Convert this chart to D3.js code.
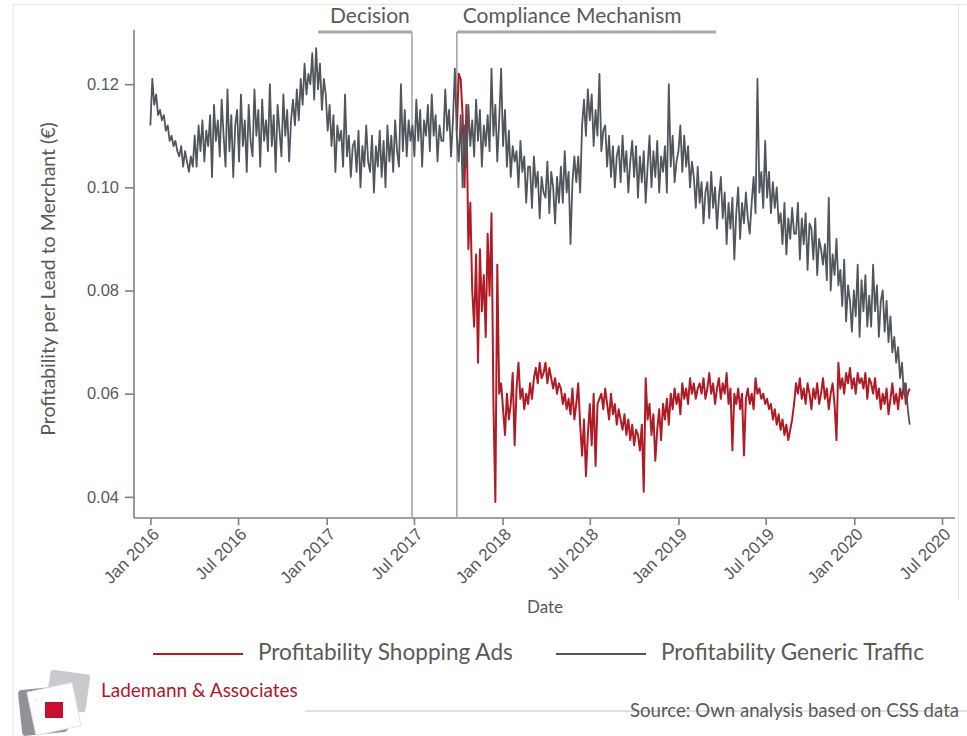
<!DOCTYPE html>
<html>
<head>
<meta charset="utf-8">
<script src="https://cdnjs.cloudflare.com/ajax/libs/d3/7.8.5/d3.min.js"></script>
<style>
  body { margin: 0; background: #fff; }
  svg { display: block; font-family: Lato, 'Open Sans', sans-serif; }
</style>
</head>
<body>
<div id="chart"></div>
<script>
// one value every 4 days
const stepDays = 4
const genericStart = '2016-01-01'
const shoppingStart = '2017-09-28'

const generic = [
  // 2016
  .112,.121,.116,.118,.114,.115,.113,.114, .111,.112,.109,.110,.108,.109,.107,
  .106,.108,.104,.107,.105,.103,.106,.104, .110,.104,.112,.107,.113,.105,.111,
  .108,.114,.102,.116,.109,.113,.106,.117, .110,.104,.119,.107,.114,.102,.112,
  .115,.105,.118,.108,.113,.103,.116,.109, .106,.119,.110,.115,.104,.117,.109,
  .113,.107,.120,.108,.114,.103,.116,.111, .106,.118,.110,.115,.105,.113,.117,
  .112,.119,.113,.121,.116,.124,.118,.122, .120,.126,.117,.127,.119,.124,.115,.121,
  // 2017
  .118,.111,.116,.108,.114,.103,.112,.109, .111,.104,.118,.106,.110,.102,.108,
  .109,.103,.111,.100,.108,.104,.112,.105, .103,.110,.099,.108,.104,.111,.102,
  .109,.100,.112,.105,.110,.103,.113,.107, .104,.120,.107,.115,.106,.113,.109,
  .112,.106,.117,.109,.115,.104,.113,.110, .116,.107,.118,.110,.114,.105,.112,.109,
  .109,.119,.111,.115,.106,.113,.123,.110, .105,.114,.100,.112,.104,.116,.108,
  .113,.106,.117,.109,.115,.104,.112,.108, .114,.107,.123,.110,.116,.105,.113,
  // 2018
  .123,.108,.115,.104,.111,.102,.108,.105, .107,.100,.109,.103,.106,.097,.104,
  .104,.096,.106,.100,.103,.094,.102,.099, .098,.105,.095,.103,.100,.093,.102,.097,
  .104,.097,.107,.099,.103,.089,.101,.106, .101,.106,.099,.112,.117,.110,.119,
  .113,.118,.108,.115,.110,.122,.107,.111, .112,.104,.110,.102,.108,.100,.106,
  .108,.101,.110,.103,.107,.099,.105,.109, .102,.108,.098,.106,.101,.107,.097,
  .104,.110,.100,.107,.102,.109,.099,.106, .103,.108,.099,.120,.104,.110,.101,.105,
  // 2019
  .107,.112,.103,.110,.104,.108,.100,.105, .102,.096,.104,.097,.101,.093,.099,
  .101,.094,.103,.096,.100,.092,.098,.102, .094,.099,.089,.097,.092,.098,.086,
  .095,.100,.090,.097,.093,.099,.094,.091, .097,.102,.095,.121,.099,.103,.096,
  .109,.098,.103,.095,.101,.096,.100,.093, .095,.089,.097,.087,.094,.090,.096,.091,
  .091,.097,.086,.094,.089,.095,.084,.093, .092,.086,.094,.083,.090,.088,.085,
  .089,.082,.098,.080,.087,.083,.090,.081, .084,.077,.086,.074,.081,.078,.072,
  // 2020
  .080,.075,.085,.071,.082,.076,.083,.073, .079,.073,.085,.076,.081,.071,.078,
  .080,.072,.078,.070,.075,.068,.071,.066, .069,.063,.066,.060,.062,.057,.054
]

const shopping = [
  .111,.122,.121,.114,.100,.116,.088,.097,
  .080,.073,.087,.066,.088,.076,.083,.071,.091,.079,.095,.058,.039,.085,.060,
  .062,.057,.052,.060,.055,.058,.064,.050,.061,.066,
  .059,.061,.057,.060,.058,.062,.059,.063,
  .065,.062,.066,.063,.064,.066,.062,.065,.063,.061,.063,.060,.062,
  .061,.058,.060,.057,.059,.056,.061,.055,
  .058,.062,.054,.048,.055,.044,.052,.058,.050,.060,.046,.058,.059,
  .060,.057,.061,.058,.055,.060,.056,.058,.054,.057,
  .055,.053,.056,.052,.055,.051,.054,.050,.053,.052,.049,.054,.041,
  .063,.055,.058,.052,.056,.047,.053,.057,.051,.058,
  .055,.059,.054,.060,.057,.061,.058,.060,.056,.062,.059,.061,.058,.063,.060,.062,.059,.061,
  .062,.060,.063,.059,.061,.064,.060,.062,.058,.061,.063,.059,.062,.060,.064,.058,.061,.049,
  .060,.058,.061,.057,.060,.048,.059,.061,.058,.060,.057,.063,.060,
  .061,.059,.060,.058,.059,.057,.058,.055,.057,.054,.056,.053,.055,.052,.054,.051,.053,.055,.058,.062,.060,
  .063,.059,.061,.058,.062,.060,.057,.061,.059,.062,.058,.060,.063,.059,.061,.057,.060,.062,.058,.051,
  .066,.061,.063,.060,.064,.062,.065,.061,.063,.060,.064,.062,.063,.061,.064,.059,.063,
  .062,.060,.063,.059,.061,.057,.060,.058,.061,.056,.059,.062,.058,.060,.057,.061,.059,.062,.058,.060,.061
]

const yTicks = [0.04, 0.06, 0.08, 0.10, 0.12]
const xRange = ['2015-11-28', '2020-07-28']
const yRange = [0.0359, 0.1305]

const phases = [
  { label: 'Decision', from: '2016-12-14', to: '2017-06-27', mark: 'to', dx: 12 },
  { label: 'Compliance Mechanism', from: '2017-09-28', to: '2019-03-20', mark: 'from', dx: 6 }
]

const legendLabels = ['Profitability Shopping Ads', 'Profitability Generic Traffic']

const red = '#b01c26'
const grey = '#51565c'
const textColor = '#595959'
const axisColor = '#808080'

const W = 967
const H = 736
const margin = { top: 30, left: 134, right: 12, bottom: 218 }
const width = W - margin.left - margin.right
const height = H - margin.top - margin.bottom

const parse = d3.timeParse('%Y-%m-%d')
const toSeries = (start, values) =>
  values.map((v, i) => ({ date: d3.timeDay.offset(parse(start), i * stepDays), value: v }))

const genericData = toSeries(genericStart, generic)
const shoppingData = toSeries(shoppingStart, shopping)

const root = d3
  .select('#chart')
  .append('svg')
  .attr('width', W)
  .attr('height', H)

// faint frame of the original slide
root.append('path')
  .attr('d', `M13,736 V4.5 H967 M958.5,4.5 V600`)
  .attr('fill', 'none')
  .attr('stroke', '#e6e6e6')

const svg = root
  .append('g')
  .attr('transform', 'translate(' + margin.left + ',' + margin.top + ')')

const x = d3.scaleTime().domain(xRange.map(parse)).range([0, width])
const y = d3.scaleLinear().domain(yRange).range([height, 0])

// axes
const xAxis = svg
  .append('g')
  .attr('transform', 'translate(0,' + height + ')')
  .call(
    d3.axisBottom(x)
      .ticks(d3.timeMonth.every(6))
      .tickFormat(d3.timeFormat('%b %Y'))
      .tickSize(7)
      .tickSizeOuter(0)
  )

const yAxis = svg
  .append('g')
  .call(
    d3.axisLeft(y)
      .tickValues(yTicks)
      .tickFormat(d3.format('.2f'))
      .tickSize(9)
      .tickPadding(6)
      .tickSizeOuter(0)
  )

svg.selectAll('.domain, .tick line')
  .attr('stroke', axisColor)
  .attr('stroke-width', 1.6)
svg.selectAll('.tick text')
  .attr('fill', textColor)
  .style('font-size', '16.5px')
yAxis.select('.domain').attr('d', `M0,${height}V0`)
xAxis.select('.domain').attr('d', `M0,0H${width}`)

xAxis.selectAll('text')
  .attr('text-anchor', 'end')
  .attr('dy', '0.35em')
  .attr('transform', 'translate(5,13) rotate(-45)')
  .attr('y', 0)
  .attr('x', 0)
  .style('font-size', '17px')

// phase brackets
phases.forEach(p => {
  const x0 = x(parse(p.from))
  const x1 = x(parse(p.to))
  const xv = p.mark === 'to' ? x1 : x0
  svg.append('line')
    .attr('x1', xv).attr('x2', xv)
    .attr('y1', 2).attr('y2', height)
    .attr('stroke', '#a8a8a8')
    .attr('stroke-width', 1.6)
  svg.append('line')
    .attr('x1', x0).attr('x2', x1)
    .attr('y1', 2).attr('y2', 2)
    .attr('stroke', '#a8a8a8')
    .attr('stroke-width', 3)
  svg.append('text')
    .attr('x', x0 + p.dx)
    .attr('y', -7)
    .attr('fill', textColor)
    .style('font-size', '21px')
    .text(p.label)
})

const line = d3.line()
  .x(d => x(d.date))
  .y(d => y(d.value))

svg.append('path')
  .datum(shoppingData)
  .attr('d', line)
  .attr('fill', 'none')
  .attr('stroke', red)
  .attr('stroke-width', 2)
  .attr('stroke-linejoin', 'round')

svg.append('path')
  .datum(genericData)
  .attr('d', line)
  .attr('fill', 'none')
  .attr('stroke', grey)
  .attr('stroke-width', 1.8)
  .attr('stroke-linejoin', 'round')

// axis titles
svg.append('text')
  .attr('x', 545 - margin.left)
  .attr('y', height + 95)
  .attr('text-anchor', 'middle')
  .attr('fill', textColor)
  .style('font-size', '17px')
  .text('Date')

root.append('text')
  .attr('transform', 'translate(50,279) rotate(-90)')
  .attr('text-anchor', 'middle')
  .attr('dominant-baseline', 'middle')
  .attr('fill', textColor)
  .style('font-size', '19.5px')
  .text('Profitability per Lead to Merchant (€)')

// legend
const legend = root.append('g').attr('transform', 'translate(0,654)')
const legendX = [153, 556]
legendLabels.forEach((label, i) => {
  legend.append('line')
    .attr('x1', legendX[i]).attr('x2', legendX[i] + 90)
    .attr('stroke', i === 0 ? red : grey)
    .attr('stroke-width', 2)
  legend.append('text')
    .attr('x', legendX[i] + 105)
    .attr('dominant-baseline', 'middle')
    .attr('fill', textColor)
    .style('font-size', '22.6px')
    .text(label)
})

// footer: logo, company name, source
const logo = root.append('g')
logo.append('rect')
  .attr('x', 48).attr('y', 672).attr('width', 40).attr('height', 38)
  .attr('rx', 3)
  .attr('fill', '#c9cacd')
  .attr('transform', 'rotate(8,68,691)')
logo.append('rect')
  .attr('x', 20).attr('y', 688).attr('width', 46).attr('height', 46)
  .attr('rx', 4)
  .attr('fill', '#8f9297')
  .attr('transform', 'rotate(-6,43,711)')
logo.append('rect')
  .attr('x', 31).attr('y', 687).attr('width', 46).attr('height', 44)
  .attr('fill', '#fff')
  .attr('stroke', '#e4e4e4')
  .attr('transform', 'rotate(-12,54,709)')
logo.append('rect')
  .attr('x', 45).attr('y', 702).attr('width', 18).attr('height', 16)
  .attr('fill', '#c8102e')

root.append('line')
  .attr('x1', 305).attr('x2', W)
  .attr('y1', 711).attr('y2', 711)
  .attr('stroke', '#c4c4c4')

root.append('text')
  .attr('x', 101)
  .attr('y', 697)
  .attr('fill', '#b5152b')
  .style('font-size', '19px')
  .text('Lademann & Associates')

root.append('text')
  .attr('x', 630)
  .attr('y', 717)
  .attr('fill', textColor)
  .style('font-size', '18.6px')
  .text('Source: Own analysis based on CSS data')
</script>
</body>
</html>
